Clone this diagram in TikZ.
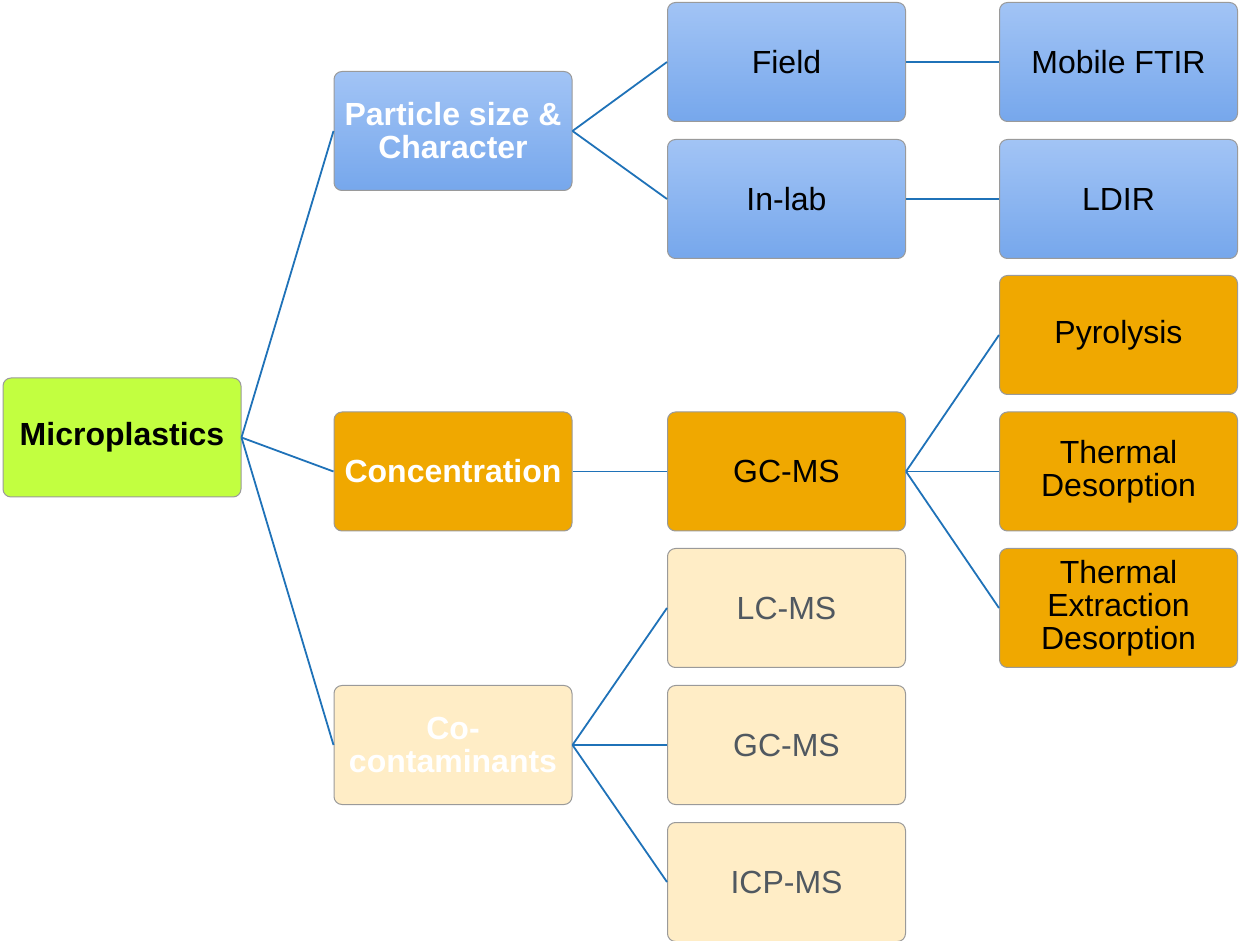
\documentclass[tikz,border=0pt]{standalone}
\usepackage{fontspec}
\setmainfont{Liberation Sans}
\definecolor{rootgreen}{HTML}{C2FF40}
\definecolor{bluetop}{HTML}{A2C4F5}
\definecolor{bluebot}{HTML}{76A7EC}
\definecolor{amber}{HTML}{F0A800}
\definecolor{cream}{HTML}{FFEDC6}
\definecolor{boxedge}{HTML}{9A9A9A}
\definecolor{linkblue}{HTML}{1F72B8}
\definecolor{softgray}{HTML}{505860}
\begin{document}
\begin{tikzpicture}[x=0.5pt,y=-0.5pt]
	\tikzstyle{every node}+=[inner sep=0pt]
	\tikzstyle{box}=[draw=boxedge, line width=0.5pt, rounded corners=4pt, minimum width=119pt, minimum height=59.5pt, align=center, font=\fontsize{16}{16.5}\selectfont]
	\tikzstyle{rootbox}=[box, fill=rootgreen, font=\fontsize{16}{16.5}\selectfont\bfseries]
	\tikzstyle{bluebox}=[box, top color=bluetop, bottom color=bluebot]
	\tikzstyle{amberbox}=[box, fill=amber]
	\tikzstyle{creambox}=[box, fill=cream, text=softgray]
	\tikzstyle{head}=[font=\fontsize{16}{16.5}\selectfont\bfseries, text=white]
	\tikzstyle{link}=[draw=linkblue, line width=0.9pt]
	\useasboundingbox (0,0) rectangle (1239,941);
	% level 0
	\node [rootbox] (micro) at (122,437.5) {Microplastics};
	% level 1
	\node [bluebox, head] (particle) at (453,131) {Particle size \&\\Character};
	\node [amberbox, head] (conc) at (453,471.5) {Concentration};
	\node [creambox, head] (cocon) at (453,745) {Co-\\contaminants};
	% level 2
	\node [bluebox] (field) at (786.5,62) {Field};
	\node [bluebox] (inlab) at (786.5,199) {In-lab};
	\node [amberbox] (gcms) at (786.5,471.5) {GC-MS};
	\node [creambox] (lcms) at (786.5,608) {LC-MS};
	\node [creambox] (gcmsco) at (786.5,745) {GC-MS};
	\node [creambox] (icpms) at (786.5,882) {ICP-MS};
	% level 3
	\node [bluebox] (ftir) at (1118.5,62) {Mobile FTIR};
	\node [bluebox] (ldir) at (1118.5,199) {LDIR};
	\node [amberbox] (pyro) at (1118.5,335) {Pyrolysis};
	\node [amberbox] (tdes) at (1118.5,471.5) {Thermal\\Desorption};
	\node [amberbox] (ted) at (1118.5,608) {Thermal\\Extraction\\Desorption};
	% links
	\foreach \a/\b in {micro/particle, micro/conc, micro/cocon,
		particle/field, particle/inlab, field/ftir, inlab/ldir,
		conc/gcms, gcms/pyro, gcms/tdes, gcms/ted,
		cocon/lcms, cocon/gcmsco, cocon/icpms}
		\draw [link] (\a.east) -- (\b.west);
\end{tikzpicture}
\end{document}
